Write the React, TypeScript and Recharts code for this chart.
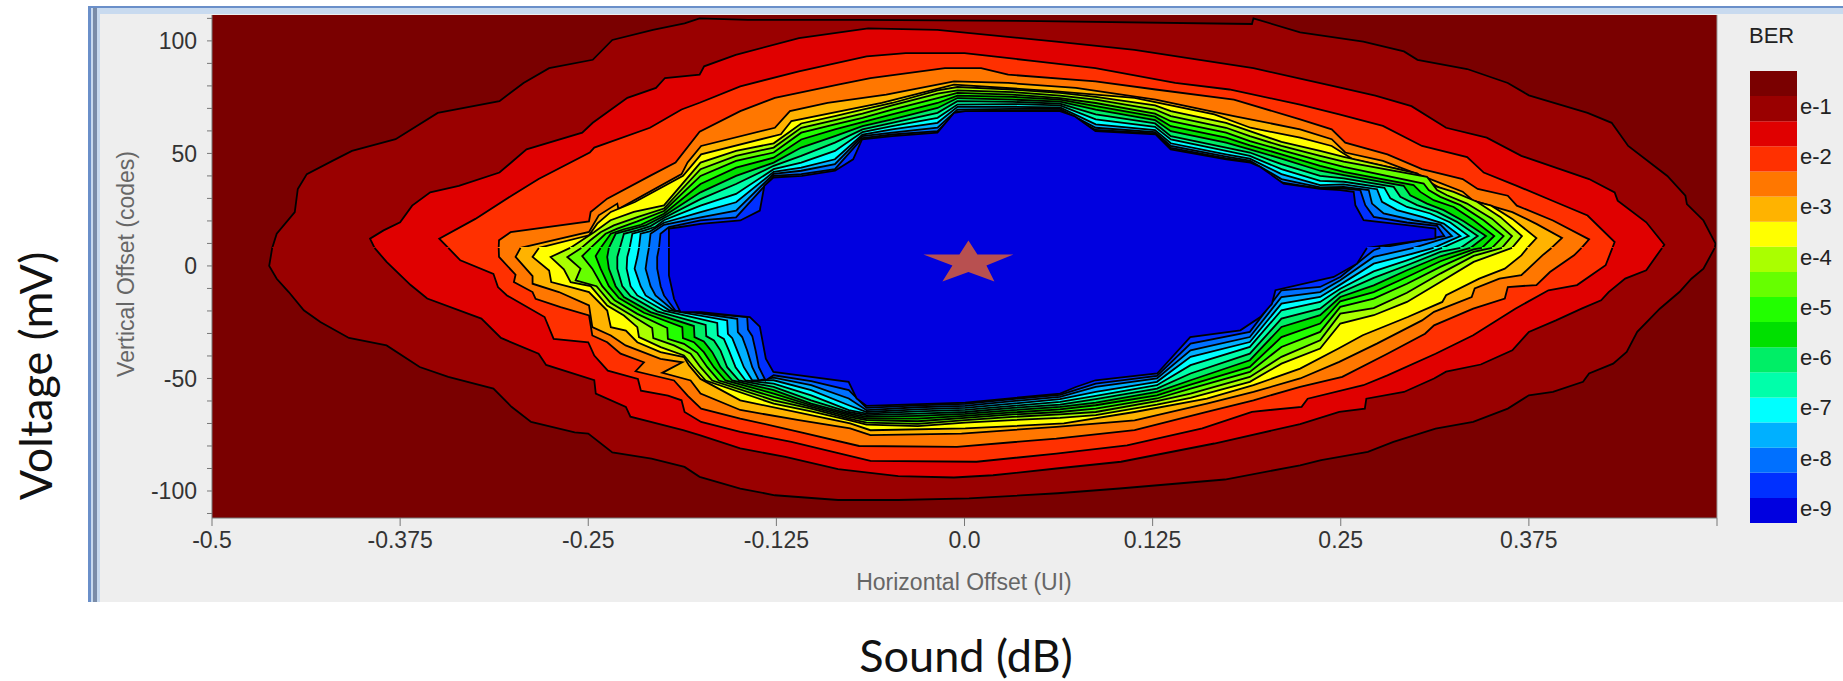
import { Area, Bar, BarChart, ComposedChart, ReferenceArea, ReferenceDot, ReferenceLine, XAxis, YAxis } from "recharts";

type Pt = [number, number];

// every contour is cut along this code value into a top half and a bottom half
const splitCode = 8;

const xTicks = [-0.5, -0.375, -0.25, -0.125, 0, 0.125, 0.25, 0.375, 0.5];
const xTickLabels = ["-0.5", "-0.375", "-0.25", "-0.125", "0.0", "0.125", "0.25", "0.375", ""];
const yTicks = [-110, -100, -90, -80, -70, -60, -50, -40, -30, -20, -10, 0, 10, 20, 30, 40, 50, 60, 70, 80, 90, 100, 110];

const outsideColor = "#7a0000";
const bandColors = [
  "#7a0000", "#9a0000", "#e00000", "#ff3000", "#ff7700", "#ffb300", "#ffff00", "#aaff00", "#66ff00",
  "#22ff00", "#00e000", "#00ee66", "#00ffaa", "#00ffff", "#00b0ff", "#0070ff", "#0030ff", "#0000e0",
];
const legendTicks = [16.6, 14.6, 12.6, 10.6, 8.6, 6.6, 4.6, 2.6, 0.6];
const legendLabels = ["e-1", "e-2", "e-3", "e-4", "e-5", "e-6", "e-7", "e-8", "e-9"];

// outer contours as [UI, codes]
const c1Top: Pt[] = [[-.46,8],[-.457,14.3],[-.445,23.9],[-.443,34.2],[-.437,40.8],[-.42,46.7],[-.407,51.1],[-.378,56.3],[-.35,68],[-.309,73.2],[-.293,81.3],[-.276,87.9],[-.247,91.6],[-.234,100.4],[-.207,104.9],[-.186,107.8],[-.176,110],[-.144,109.3],[-.07,109.3],[.05,108.8],[.191,107.5],[.192,110],[.223,103.8],[.265,99.7],[.292,95.3],[.301,91.6],[.334,87.5],[.361,81.3],[.375,75.8],[.414,68],[.43,63.6],[.441,53.3],[.467,40],[.479,31.2],[.48,27.5],[.491,20.2],[.499,9.9],[.4985,8]];
const c1Bottom: Pt[] = [[-.46,8],[-.462,0],[-.457,-5.7],[-.449,-11.6],[-.439,-19.7],[-.428,-24.9],[-.409,-32],[-.384,-35.3],[-.362,-44.9],[-.343,-49.3],[-.313,-54.5],[-.301,-62.6],[-.288,-69.3],[-.259,-74],[-.25,-74.5],[-.234,-82.9],[-.208,-85.6],[-.186,-89.3],[-.176,-93.7],[-.149,-98.9],[-.126,-101.9],[-.084,-104],[-.044,-104],[.003,-103.3],[.062,-101],[.103,-98.9],[.173,-94.9],[.223,-88.6],[.237,-86.3],[.268,-82.6],[.285,-78.2],[.313,-72.3],[.338,-69.3],[.361,-63.4],[.375,-57.5],[.391,-56],[.411,-51.5],[.415,-47.8],[.431,-43.4],[.44,-38.2],[.447,-29.3],[.462,-19],[.475,-11.6],[.483,-5.7],[.491,-1.2],[.4985,8]];

const c2Top: Pt[] = [[-.392,8],[-.395,12.1],[-.386,15.8],[-.375,19.4],[-.367,26.8],[-.355,32.7],[-.336,35.6],[-.309,41.5],[-.291,51.8],[-.254,59.2],[-.247,63.6],[-.224,74.7],[-.205,79.1],[-.199,83.5],[-.176,85],[-.173,88.7],[-.152,93.8],[-.11,101.2],[-.064,105.6],[-.018,104.9],[.061,99.7],[.113,96],[.153,91.9],[.192,87.9],[.223,83.2],[.246,79.8],[.273,75.7],[.297,71],[.32,61.4],[.347,57],[.37,48.9],[.415,38.6],[.432,32.7],[.434,29],[.453,19.4],[.465,9.4],[.4635,8]];
const c2Bottom: Pt[] = [[-.392,8],[-.384,1.8],[-.368,-8.5],[-.357,-14.5],[-.321,-23.4],[-.308,-32],[-.283,-39],[-.278,-44],[-.246,-50.8],[-.245,-56.7],[-.225,-62.6],[-.222,-67],[-.187,-73],[-.176,-75.2],[-.149,-81.1],[-.119,-84.8],[-.084,-90.3],[-.044,-93.4],[-.007,-94],[.019,-93],[.061,-90],[.104,-87],[.166,-78.9],[.223,-70.3],[.249,-64.8],[.266,-63.4],[.267,-59],[.292,-56],[.312,-50],[.32,-47],[.343,-43.8],[.364,-37.5],[.375,-29.3],[.393,-24.2],[.41,-19],[.423,-15.3],[.428,-11.6],[.439,-5.65],[.453,-1.9],[.4635,8]];

const c3Top: Pt[] = [[-.343,8],[-.349,12.1],[-.325,20.9],[-.301,31.2],[-.283,38.6],[-.249,50.4],[-.246,52.6],[-.209,61.4],[-.188,69.5],[-.176,72.5],[-.149,79.8],[-.11,86.5],[-.065,93.1],[-.039,94.6],[0,94.6],[.048,90.9],[.087,87.9],[.14,81.3],[.176,78.4],[.223,71.7],[.249,67.3],[.278,62.2],[.304,53.3],[.334,48.4],[.345,41.5],[.367,35.6],[.393,28.3],[.414,22.4],[.432,10.6],[.4305,8]];
const c3Bottom: Pt[] = [[-.343,8],[-.335,2.5],[-.313,-3.5],[-.31,-9.4],[-.304,-13.1],[-.279,-22.7],[-.273,-32.4],[-.25,-33.9],[-.246,-39.8],[-.237,-46.5],[-.217,-50.2],[-.215,-55.4],[-.197,-57.6],[-.188,-59.7],[-.186,-64.9],[-.175,-69.3],[-.149,-73.7],[-.115,-78.2],[-.0625,-86.6],[.008,-87],[.061,-83.4],[.108,-79.7],[.158,-72.2],[.191,-64.8],[.224,-62.6],[.228,-59],[.265,-53],[.281,-48.6],[.313,-39],[.338,-30.8],[.366,-19],[.388,-10.8],[.407,-8.5],[.426,.3],[.4305,8]];

const c4Top: Pt[] = [[-.3095,8],[-.3093,11.4],[-.3016,15],[-.2495,19.8],[-.2484,24],[-.2374,29.9],[-.209,40],[-.192,45.9],[-.176,59.6],[-.149,68.8],[-.126,74.7],[-.084,80.6],[-.0625,83.5],[-.013,87.9],[.011,87.9],[.029,85],[.087,82],[.127,78.4],[.179,73.9],[.223,65.1],[.244,60.7],[.253,54.8],[.281,49.6],[.304,43],[.331,38.6],[.341,34.2],[.361,31.2],[.367,26.8],[.391,20.2],[.415,11.8],[.41,8]];
const c4Bottom: Pt[] = [[-.3095,8],[-.3093,4],[-.2983,-3.9],[-.2994,-7.2],[-.287,-11.6],[-.285,-14.6],[-.2684,-18.3],[-.2495,-22],[-.2473,-30.9],[-.2374,-33.9],[-.2285,-39],[-.213,-42.8],[-.2185,-46.8],[-.193,-50.9],[-.184,-57.6],[-.175,-63.4],[-.149,-67.8],[-.11,-73.7],[-.07,-80],[-.005,-80.4],[.061,-76.7],[.113,-73],[.161,-64.8],[.192,-59.7],[.223,-53.7],[.251,-49.3],[.281,-39],[.306,-30.1],[.312,-26.4],[.338,-19],[.359,-14.5],[.361,-9.35],[.38,-8.5],[.389,-2.7],[.405,4.7],[.41,8]];

const c5Top: Pt[] = [[-.295,8],[-.2495,15.1],[-.243,22.5],[-.2307,27.7],[-.23,25.3],[-.188,40.8],[-.184,46],[-.175,53.3],[-.126,61.4],[-.116,68.8],[-.091,72.5],[-.052,76.1],[-.007,82],[.029,81.3],[.074,79.1],[.127,73.9],[.179,66.6],[.223,60.7],[.244,56.3],[.253,50.4],[.278,46.7],[.301,40.8],[.331,33],[.338,29],[.364,23.9],[.38,18.7],[.397,12.4],[.39,8]];
const c5Bottom: Pt[] = [[-.295,8],[-.2983,4],[-.287,-4.5],[-.287,-7.9],[-.2695,-11.6],[-.2495,-17.5],[-.2473,-27.2],[-.235,-30.9],[-.2252,-35.3],[-.202,-41.3],[-.1875,-42.8],[-.2008,-47.5],[-.182,-50.9],[-.1754,-56.7],[-.149,-64],[-.11,-68.5],[-.076,-72.2],[-.0625,-75.2],[-.002,-74.5],[.061,-71.5],[.113,-68.6],[.161,-61.2],[.192,-56],[.223,-50],[.249,-42.6],[.274,-34.5],[.304,-24.2],[.312,-20.4],[.337,-13.8],[.339,-10],[.3554,-5.65],[.37,-4.1],[.384,4.7],[.39,8]];

const c6Top: Pt[] = [[-.2828,8],[-.2495,13.6],[-.244,18.8],[-.235,24],[-.219,28.4],[-.187,40],[-.175,49.6],[-.122,58.5],[-.115,64.4],[-.055,72.5],[-.007,80.6],[.061,77.6],[.113,74.7],[.166,67.3],[.19,61.4],[.223,57],[.244,53.3],[.258,47.4],[.288,43],[.304,39.3],[.315,34.9],[.3336,29.7],[.35,26.8],[.364,20.9],[.38,12.4],[.374,8]];
const c6Bottom: Pt[] = [[-.2828,8],[-.287,4],[-.276,-2],[-.2746,-7.2],[-.2617,-9.4],[-.2495,-11.6],[-.2374,-19.8],[-.235,-27.2],[-.225,-28.7],[-.2174,-33.9],[-.202,-38.3],[-.1864,-40.5],[-.183,-44.2],[-.1754,-50.2],[-.149,-59.7],[-.076,-70],[-.0625,-73],[.0005,-72.2],[.066,-70],[.113,-64.9],[.161,-59],[.192,-53],[.223,-45.6],[.2485,-36.7],[.2646,-30.8],[.2945,-22.7],[.3175,-16],[.32,-13],[.342,-5.65],[.359,-1.2],[.37,4.7],[.374,8]];

// shared UI stations for the tightly packed inner contours
const arcTopX = [-.1754,-.1518,-.1268,-.1085,-.0861,-.0678,-.0481,-.0179,-.0047,.032,.0635,.0872,.1266,.1371,.1738,.1896,.2106,.2363];
const arcBottomX = [-.1268,-.1019,-.0769,-.0651,-.031,.0005,.032,.0635,.0872,.1279,.1502,.1896,.2106,.2363];

const c7TopLeft: Pt[] = [[-.262,8],[-.2462,15],[-.2352,20.3],[-.2197,24],[-.1997,26.9]];
const c7TopArc = [45.9,51.1,54.5,63.3,66.6,69.5,72.4,78,79.5,78.3,76.9,75.1,71.3,68.8,63.6,59.9,55.1,51.1];
const c7TopRight: Pt[] = [[.252,48.5],[.3007,41.1],[.3106,35.9],[.325,32.9],[.3405,28.5],[.356,21.8],[.3704,13.3],[.3638,8]];
const c7BottomLeft: Pt[] = [[-.262,8],[-.275,3.95],[-.2662,-1.5],[-.2617,-7.2],[-.2484,-9],[-.2374,-17.6],[-.2263,-22],[-.2174,-27.2],[-.2163,-31.6],[-.2019,-36.1],[-.1864,-39.8],[-.1798,-45],[-.172,-50.9]];
const c7BottomArc = [-61.2,-64.6,-68.5,-70.5,-71.2,-69.6,-68.5,-67.5,-66.3,-61.6,-58.6,-51.5,-43.4,-36.7];
const c7BottomRight: Pt[] = [[.2497,-25.6],[.2719,-21.9],[.294,-16],[.3162,-7.1],[.3383,1.8],[.3638,8]];

const c8TopLeft: Pt[] = [[-.2546,8],[-.2484,11.5],[-.2418,15],[-.233,18],[-.2174,21.7],[-.1997,25.5]];
const c8TopArc = [43,48.9,52.6,61.4,64.8,67.7,71.3,76.6,78,77.2,75.7,73.9,69.5,66.6,61.4,57.7,53.3,48.9];
const c8TopRight: Pt[] = [[.252,46.3],[.3073,39.6],[.314,33.7],[.3206,31.4],[.3339,27.7],[.3505,21],[.3638,13.3],[.3571,8]];
const c8BottomLeft: Pt[] = [[-.2546,8],[-.2639,3.95],[-.2551,-1.2],[-.2584,-6.4],[-.2445,-9],[-.2352,-16.4],[-.2219,-21.7],[-.2075,-27.6],[-.2068,-32.1],[-.193,-35.3],[-.182,-39],[-.1754,-45],[-.1676,-50.9]];
const c8BottomArc = [-59.7,-63.4,-67.8,-69.6,-70.2,-68.5,-67.1,-66,-64.9,-60.1,-56.7,-49.3,-40.4,-33];
const c8BottomRight: Pt[] = [[.2497,-21.2],[.2719,-18.7],[.294,-11.9],[.3162,-3.4],[.3383,4.45],[.3571,8]];

const c9TopLeft: Pt[] = [[-.2484,8],[-.2385,14.3],[-.2307,16.6],[-.2174,19.8],[-.1997,24.4]];
const c9TopArc = [40,46.7,50.4,59.2,62.9,65.8,69.5,74.6,76.9,76.1,74.6,72.4,67.7,64.3,59.2,55.5,51.5,46.7];
const c9TopRight: Pt[] = [[.252,44],[.3051,36.6],[.3084,33.7],[.3162,30.7],[.3295,27],[.345,20.3],[.3582,13.3],[.3505,8]];
const c9BottomLeft: Pt[] = [[-.2484,8],[-.254,4.4],[-.2473,-1.2],[-.2407,-9],[-.2325,-15.3],[-.2174,-21.3],[-.1975,-27.6],[-.1971,-32.4],[-.1864,-34.6],[-.1776,-38.6],[-.1709,-45],[-.1632,-50.9]];
const c9BottomArc = [-58.2,-62.6,-67.1,-68.5,-69,-67.5,-66,-64.9,-63.4,-58.9,-54.5,-47.1,-36,-29.3];
const c9BottomRight: Pt[] = [[.2497,-18.2],[.2719,-14.5],[.294,-7.9],[.3162,-.4],[.3383,6.2],[.3505,8]];

const c10TopLeft: Pt[] = [[-.2418,8],[-.235,14.3],[-.2263,16.3],[-.215,18.3],[-.1997,23.2]];
const c10TopArc = [36.4,43.7,48.1,56.2,60.7,63.9,67.3,72.4,75.7,75.1,73.9,71,66.3,62.1,57,53.6,49.6,44.5];
const c10TopRight: Pt[] = [[.252,41.8],[.2984,35.9],[.3029,32.9],[.3117,29.2],[.325,26.2],[.3383,20.3],[.352,13.3],[.3438,8]];
const c10BottomLeft: Pt[] = [[-.2418,8],[-.2451,4.4],[-.2418,-1.2],[-.2363,-9],[-.2296,-14.3],[-.213,-20.8],[-.1875,-27.2],[-.1871,-32.1],[-.1798,-33.9],[-.1732,-38.3],[-.1665,-45],[-.1588,-50.9]];
const c10BottomArc = [-56.7,-61.9,-66.3,-67.8,-67.8,-66.6,-65.1,-63.7,-61.9,-57.5,-52.7,-44.9,-31.6,-25.6];
const c10BottomRight: Pt[] = [[.2497,-15.7],[.2719,-11.6],[.294,-4.9],[.3162,2.1],[.3383,7.4],[.3438,8]];

const c11TopLeft: Pt[] = [[-.2363,8],[-.2318,14.3],[-.2219,16.1],[-.2119,18],[-.1997,22.2]];
const c11TopArc = [32.7,40,45.9,52.6,57.7,62.1,65.1,70.2,74.6,73.9,73,69.5,64.8,59.9,54.8,51.8,47.7,42.3];
const c11TopRight: Pt[] = [[.252,40.3],[.2918,35.6],[.2962,31.4],[.3073,27.7],[.3184,24.8],[.3317,19.9],[.3465,13.3],[.3361,8]];
const c11BottomLeft: Pt[] = [[-.2363,8],[-.2374,3.95],[-.2363,-1.2],[-.2318,-9],[-.2263,-13.8],[-.2086,-20.5],[-.1798,-26.7],[-.1794,-31.6],[-.1732,-33.6],[-.1676,-38.3],[-.1621,-45],[-.1543,-50.9]];
const c11BottomArc = [-55.2,-61.2,-65.6,-67.1,-66.6,-65.7,-64.1,-62.6,-60.7,-56,-50.8,-41.9,-27.1,-21.9];
const c11BottomRight: Pt[] = [[.2497,-13.8],[.2719,-8.6],[.294,-1.9],[.3162,4.3],[.3361,8]];

const c12TopLeft: Pt[] = [[-.229,8],[-.2263,14.3],[-.2174,15.8],[-.2086,17.7],[-.1997,21.3]];
const c12TopArc = [29.7,36.4,44.5,48.9,54.8,60.7,63.6,68,73.2,72.9,72.1,67.3,63.3,57.7,52.6,50.4,45.2,40];
const c12TopRight: Pt[] = [[.252,38.9],[.2852,35.1],[.2896,30.7],[.3007,27],[.314,24],[.3272,19.6],[.341,13.3],[.3295,8]];
const c12BottomLeft: Pt[] = [[-.229,8],[-.2307,3.95],[-.2307,-1.2],[-.2274,-9],[-.2219,-13.4],[-.2042,-20.2],[-.172,-26.2],[-.1716,-31.2],[-.1665,-33.1],[-.1621,-37.6],[-.1577,-45],[-.1499,-50.9]];
const c12BottomArc = [-53.7,-59.7,-64.9,-66.3,-65.6,-64.9,-63.1,-61.6,-59.2,-54.5,-47.8,-39,-23.4,-19];
const c12BottomRight: Pt[] = [[.2497,-11.9],[.2719,-5.3],[.294,.3],[.3162,6.2],[.3295,8]];

const c13TopLeft: Pt[] = [[-.2225,8],[-.2207,14.3],[-.213,15.7],[-.2053,17.4],[-.1997,20.3]];
const c13TopArc = [26.8,32,43,45.9,51.1,59.5,62.1,65.8,71.7,71.9,71.3,65.1,61.8,56.2,51.1,48.9,43,37.8];
const c13TopRight: Pt[] = [[.252,37.4],[.279,34.7],[.283,30],[.294,26.2],[.3095,23.3],[.3228,19.3],[.335,13.3],[.3173,8]];
const c13BottomLeft: Pt[] = [[-.2225,8],[-.2241,3.95],[-.2245,-1.2],[-.2219,-9],[-.2174,-13.1],[-.1997,-19.9],[-.1643,-25.3],[-.1639,-30.9],[-.1599,-32.4],[-.1565,-37.6],[-.1521,-45],[-.1455,-50.9]];
const c13BottomArc = [-52.3,-57.5,-64.1,-65.6,-64.6,-64,-62.2,-60.4,-57.7,-53,-44.1,-36,-19.7,-16];
const c13BottomRight: Pt[] = [[.2497,-10.1],[.2719,-2.4],[.294,2.5],[.3173,8]];

const c14TopLeft: Pt[] = [[-.2163,8],[-.2152,14.3],[-.2086,15.5],[-.1997,19.2]];
const c14TopArc = [23.9,28.3,41.8,43.7,47.4,58.4,60.7,63.6,70.7,70.7,70.4,62.9,60.4,54.5,49.6,47.7,40.8,35.9];
const c14TopRight: Pt[] = [[.252,36.2],[.2741,34.1],[.2774,28.5],[.2874,24.8],[.304,21.8],[.3184,18.8],[.3295,13.3],[.3117,8]];
const c14BottomLeft: Pt[] = [[-.2163,8],[-.2174,3.95],[-.2192,-1.2],[-.2152,-9],[-.2119,-13.1],[-.1964,-19.6],[-.1577,-24.2],[-.1572,-30.2],[-.1543,-32.1],[-.151,-37.6],[-.1466,-45],[-.141,-50.9]];
const c14BottomArc = [-50.8,-55.2,-61.9,-64.9,-63.7,-63.1,-61.2,-59.2,-56,-51.5,-40.4,-33.8,-16.75,-13.8];
const c14BottomRight: Pt[] = [[.2497,-8.3],[.2719,1],[.294,4.75],[.3117,8]];

const c15TopLeft: Pt[] = [[-.2097,8],[-.2086,14.3],[-.1997,18.3]];
const c15TopArc = [21.6,24.6,40.9,42.3,45.2,57.7,59.2,61.4,69.5,69.8,69.8,61.4,59.5,53.3,48.6,46.8,38.6,34.9];
const c15TopRight: Pt[] = [[.252,35.1],[.2686,33.7],[.2708,27.7],[.2785,23.3],[.2984,20.3],[.3162,18.4],[.3239,13.3],[.2984,8]];
const c15BottomLeft: Pt[] = [[-.2097,8],[-.2108,3.95],[-.2119,-1.2],[-.2086,-9],[-.2053,-13.1],[-.1942,-19.3],[-.151,-23.5],[-.1506,-29.4],[-.1477,-31.6],[-.1444,-37.6],[-.141,-45],[-.1366,-50.9]];
const c15BottomArc = [-49.6,-53,-58.9,-64.1,-62.8,-62.2,-60.1,-58.2,-53.7,-50,-37.5,-31.6,-13.8,-11.6];
const c15BottomRight: Pt[] = [[.2497,-6.4],[.2719,4],[.2984,8]];

const c16TopLeft: Pt[] = [[-.203,8],[-.202,14.3],[-.1964,17.3]];
const c16TopArc = [20.2,21.6,40,40.8,43,56.8,58.4,59.9,68.6,69.1,69.2,60.4,58.9,52.4,47.8,46.2,37.1,34.4];
const c16TopRight: Pt[] = [[.252,34.4],[.263,33.7],[.2663,27],[.2719,21.8],[.294,19.3],[.314,17.8],[.3188,13.3],[.2763,8]];
const c16BottomLeft: Pt[] = [[-.203,8],[-.2042,3.95],[-.2042,-1.2],[-.2019,-9],[-.1997,-13.1],[-.192,-19.9],[-.1444,-22.7],[-.1439,-28.2],[-.141,-31.2],[-.1388,-37.6],[-.1366,-45],[-.1322,-50.9]];
const c16BottomArc = [-48.6,-51.2,-55.2,-63.1,-62,-61.3,-59.2,-57.3,-52.3,-48.9,-34.5,-29.3,-10.8,-9.35];
const c16BottomRight: Pt[] = [[.2497,-4.9],[.2719,7],[.2763,8]];

const c17Top: Pt[] = [[-.1964,8],[-.1964,16.6],[-.1887,17.3],[-.1754,18.7],[-.149,20.2],[-.136,24.6],[-.133,35.6],[-.127,39.3],[-.108,40],[-.086,42.3],[-.074,47.4],[-.068,56.3],[-.048,57.7],[-.018,59.2],[-.007,68],[.0005,68.8],[.0635,68.8],[.073,66.6],[.087,59.9],[.127,58.5],[.137,51.8],[.174,47.4],[.19,45.9],[.1966,44],[.212,36.6],[.2363,34.2],[.2497,33.7],[.2586,32.9],[.2597,27],[.2652,20.3],[.294,18.1],[.3129,16.6],[.3129,12.2],[.2674,8]];
const c17Bottom: Pt[] = [[-.1964,8],[-.1964,4],[-.1964,-4.2],[-.193,-14.6],[-.1887,-20.5],[-.175,-20.5],[-.1426,-22.7],[-.136,-27],[-.132,-41.2],[-.127,-47.1],[-.077,-51.5],[-.0717,-58.9],[-.065,-62.2],[.0005,-60.7],[.0635,-56.7],[.074,-53.8],[.087,-50.8],[.128,-47.8],[.15,-31.6],[.1833,-28.6],[.1966,-22.7],[.2043,-16.8],[.2066,-10.8],[.2453,-4.9],[.2608,1],[.2674,8]];

const starPoint = { x: 0.0026, y: 2 };

const zip = (xs: number[], ys: number[]): Pt[] => xs.map((x, i) => [x, ys[i]]);
const inner = (left: Pt[], xs: number[], ys: number[], right: Pt[]): Pt[] => [...left, ...zip(xs, ys), ...right];

const topHalves: Pt[][] = [
  c1Top, c2Top, c3Top, c4Top, c5Top, c6Top,
  inner(c7TopLeft, arcTopX, c7TopArc, c7TopRight),
  inner(c8TopLeft, arcTopX, c8TopArc, c8TopRight),
  inner(c9TopLeft, arcTopX, c9TopArc, c9TopRight),
  inner(c10TopLeft, arcTopX, c10TopArc, c10TopRight),
  inner(c11TopLeft, arcTopX, c11TopArc, c11TopRight),
  inner(c12TopLeft, arcTopX, c12TopArc, c12TopRight),
  inner(c13TopLeft, arcTopX, c13TopArc, c13TopRight),
  inner(c14TopLeft, arcTopX, c14TopArc, c14TopRight),
  inner(c15TopLeft, arcTopX, c15TopArc, c15TopRight),
  inner(c16TopLeft, arcTopX, c16TopArc, c16TopRight),
  c17Top,
];
const bottomHalves: Pt[][] = [
  c1Bottom, c2Bottom, c3Bottom, c4Bottom, c5Bottom, c6Bottom,
  inner(c7BottomLeft, arcBottomX, c7BottomArc, c7BottomRight),
  inner(c8BottomLeft, arcBottomX, c8BottomArc, c8BottomRight),
  inner(c9BottomLeft, arcBottomX, c9BottomArc, c9BottomRight),
  inner(c10BottomLeft, arcBottomX, c10BottomArc, c10BottomRight),
  inner(c11BottomLeft, arcBottomX, c11BottomArc, c11BottomRight),
  inner(c12BottomLeft, arcBottomX, c12BottomArc, c12BottomRight),
  inner(c13BottomLeft, arcBottomX, c13BottomArc, c13BottomRight),
  inner(c14BottomLeft, arcBottomX, c14BottomArc, c14BottomRight),
  inner(c15BottomLeft, arcBottomX, c15BottomArc, c15BottomRight),
  inner(c16BottomLeft, arcBottomX, c16BottomArc, c16BottomRight),
  c17Bottom,
];

const toRows = (pts: Pt[]) => pts.map(([x, y]) => ({ x, y }));

const legendRow = Object.fromEntries([...bandColors].reverse().map((_, i) => [`band${i}`, 1]));

const font = "'Liberation Sans', Arial, sans-serif";

const Star = ({ cx, cy }: any) => {
  const pts = [[0,-21],[9,-7],[45,-7],[18,4],[26,20],[0,10.5],[-26,20],[-16,4],[-45,-7],[-9,-7]];
  return <polygon points={pts.map(([dx, dy]) => `${cx + dx},${cy + dy}`).join(" ")} fill="#b85050" />;
};

const ContourHalf = (pts: Pt[], color: string, base: number, key: string) => (
  <Area
    key={key}
    data={toRows(pts)}
    dataKey="y"
    type="linear"
    baseValue={base}
    fill={color}
    fillOpacity={1}
    stroke="#000"
    strokeWidth={1.8}
    dot={false}
    activeDot={false}
    legendType="none"
    isAnimationActive={false}
  />
);

export default function App() {
  return (
    <div style={{ position: "absolute", left: 0, top: 0, width: 1843, height: 681, background: "#fff", overflow: "hidden", fontFamily: font }}>
      {/* window frame behind the plot */}
      <div style={{ position: "absolute", left: 88, top: 6, width: 1755, height: 596, background: "#eeeeee" }} />
      <div style={{ position: "absolute", left: 88, top: 6, width: 1755, height: 2, background: "#6a8fc9" }} />
      <div style={{ position: "absolute", left: 92, top: 8, width: 1751, height: 6, background: "#c8daef" }} />
      <div style={{ position: "absolute", left: 88, top: 6, width: 3, height: 596, background: "#6a8fc9" }} />
      <div style={{ position: "absolute", left: 91, top: 8, width: 1.5, height: 594, background: "#c8daef" }} />
      <div style={{ position: "absolute", left: 92.5, top: 8, width: 4.5, height: 594, background: "#7a8ca8" }} />
      <div style={{ position: "absolute", left: 97, top: 8, width: 2.5, height: 594, background: "#c8daef" }} />

      <div style={{ position: "absolute", left: 0, top: 0 }}>
        <ComposedChart width={1843} height={681} margin={{ top: 15, right: 126, bottom: 0, left: 92 }}>
          <XAxis
            dataKey="x"
            type="number"
            domain={[-0.5, 0.5]}
            ticks={xTicks}
            interval={0}
            height={163}
            allowDataOverflow
            tickSize={8}
            tickMargin={6}
            stroke="#777"
            tick={{ fill: "#333", fontSize: 23, fontFamily: font }}
            tickFormatter={(v: number) => xTickLabels[xTicks.indexOf(v)]}
          />
          <YAxis
            type="number"
            domain={[-112, 111.5]}
            ticks={yTicks}
            interval={0}
            width={120}
            allowDataOverflow
            tickSize={5}
            tickMargin={10}
            stroke="#777"
            tick={{ fill: "#333", fontSize: 23, fontFamily: font }}
            tickFormatter={(v: number) => (v % 50 === 0 ? String(v) : "")}
          />
          <ReferenceArea x1={-0.5} x2={0.5} y1={-112} y2={111.5} fill={outsideColor} fillOpacity={1} stroke="none" />
          {topHalves.map((pts, i) => ContourHalf(pts, bandColors[i + 1], splitCode - 0.4, `top${i}`))}
          {bottomHalves.map((pts, i) => ContourHalf(pts, bandColors[i + 1], splitCode + 0.4, `bottom${i}`))}
          <ReferenceLine x={0.5} stroke="#999" />
          <ReferenceDot x={starPoint.x} y={starPoint.y} shape={Star} />
        </ComposedChart>
      </div>

      <div style={{ position: "absolute", left: 964, top: 582, transform: "translate(-50%,-50%)", fontSize: 23, color: "#666", whiteSpace: "nowrap" }}>Horizontal Offset (UI)</div>
      <div style={{ position: "absolute", left: 126, top: 264, transform: "translate(-50%,-50%) rotate(-90deg)", fontSize: 23, color: "#666", whiteSpace: "nowrap" }}>Vertical Offset (codes)</div>
      <div style={{ position: "absolute", left: 966, top: 655, transform: "translate(-50%,-50%)", fontSize: 45, color: "#111", fontFamily: "Lato, sans-serif", whiteSpace: "nowrap" }}>Sound (dB)</div>
      <div style={{ position: "absolute", left: 35, top: 376, transform: "translate(-50%,-50%) rotate(-90deg)", fontSize: 45, color: "#111", fontFamily: "Lato, sans-serif", whiteSpace: "nowrap" }}>Voltage (mV)</div>
      <div style={{ position: "absolute", left: 1749, top: 36, transform: "translateY(-50%)", fontSize: 22, color: "#222" }}>BER</div>

      <div style={{ position: "absolute", left: 1749.5, top: 71 }}>
        <BarChart width={93} height={452} data={[legendRow]} margin={{ top: 0, right: 0, bottom: 0, left: 0 }} barCategoryGap={0}>
          <XAxis hide />
          <YAxis
            orientation="right"
            type="number"
            domain={[0, 18]}
            ticks={legendTicks}
            interval={0}
            width={46}
            axisLine={false}
            tickLine={false}
            tickSize={0}
            tickMargin={3}
            tick={{ fill: "#222", fontSize: 22, fontFamily: font }}
            tickFormatter={(v: number) => legendLabels[legendTicks.indexOf(v)]}
          />
          {[...bandColors].reverse().map((c, i) => (
            <Bar key={c} dataKey={`band${i}`} stackId="legend" fill={c} isAnimationActive={false} />
          ))}
        </BarChart>
      </div>
    </div>
  );
}
